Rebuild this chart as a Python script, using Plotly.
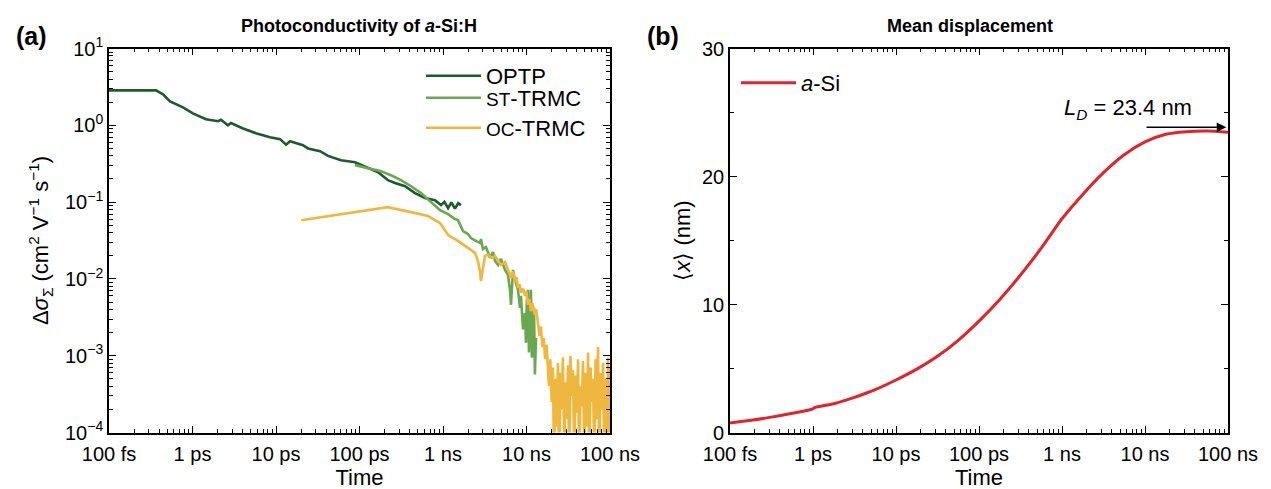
import plotly.graph_objects as go

# ---------------- data: panel (a) ----------------
x_tick_vals = [1e-13, 1e-12, 1e-11, 1e-10, 1e-9, 1e-8, 1e-7]
x_tick_text = ["100 fs", "1 ps", "10 ps", "100 ps", "1 ns", "10 ns", "100 ns"]
ya_tick_vals = [1e-4, 1e-3, 1e-2, 1e-1, 1e0, 1e1]
ya_tick_text = ["10<sup>−4</sup>", "10<sup>−3</sup>", "10<sup>−2</sup>",
                "10<sup>−1</sup>", "10<sup>0</sup>", "10<sup>1</sup>"]

optp_t = [1.0e-13, 2.0e-13, 3.66e-13, 4.44e-13, 5.38e-13, 7.69e-13, 1.01e-12, 1.45e-12,
          2.02e-12, 2.19e-12, 2.66e-12, 2.89e-12, 4.03e-12, 5.75e-12, 8.47e-12, 1.12e-11,
          1.32e-11, 1.47e-11, 2.10e-11, 2.42e-11, 3.37e-11, 4.20e-11, 6.0e-11, 8.83e-11,
          1.26e-10, 1.67e-10, 2.19e-10, 2.66e-10, 3.51e-10, 4.62e-10, 6.08e-10, 8.0e-10,
          9.46e-10, 1.04e-9, 1.15e-9, 1.26e-9, 1.39e-9, 1.52e-9, 1.64e-9]
optp_v = [2.85, 2.85, 2.85, 2.53, 2.05, 1.71, 1.43, 1.20, 1.13, 1.18, 1.0, 1.07,
          0.91, 0.79, 0.70, 0.66, 0.56, 0.62, 0.55, 0.50, 0.46, 0.40, 0.35, 0.33,
          0.277, 0.245, 0.193, 0.177, 0.161, 0.131, 0.113, 0.106, 0.0914, 0.101,
          0.0835, 0.099, 0.082, 0.097, 0.0914]

st_t = [8.8e-11, 1.26e-10, 1.81e-10, 2.38e-10, 3.14e-10, 4.14e-10, 5.46e-10, 7.18e-10,
        9.2e-10, 1.15e-9, 1.39e-9, 1.51e-9, 1.74e-9, 1.99e-9, 2.16e-9, 2.48e-9, 2.77e-9,
        2.85e-9, 3.01e-9, 3.27e-9, 3.66e-9, 3.97e-9, 4.2e-9, 4.56e-9, 4.95e-9, 5.53e-9,
        6.0e-9, 6.34e-9, 6.52e-9, 6.89e-9, 7.28e-9, 7.91e-9, 8.36e-9, 8.59e-9, 9.08e-9,
        9.6e-9, 9.86e-9, 1.01e-8, 1.04e-8, 1.07e-8, 1.10e-8, 1.13e-8, 1.16e-8, 1.20e-8,
        1.23e-8, 1.26e-8, 1.30e-8]
st_v = [0.303, 0.277, 0.253, 0.224, 0.193, 0.161, 0.131, 0.100, 0.0787, 0.0698,
        0.0601, 0.0583, 0.0420, 0.0384, 0.0340, 0.0312, 0.0294, 0.033, 0.0245, 0.026,
        0.0188, 0.0224, 0.0171, 0.0152, 0.0182, 0.0131, 0.0113, 0.0072, 0.0046, 0.0131,
        0.0097, 0.0072, 0.0042, 0.0060, 0.0022, 0.0036, 0.00148, 0.0053, 0.0072, 0.0011,
        0.00245, 0.0072, 0.00094, 0.0017, 0.0042, 0.00057, 0.0017]

oc_t = [2.0e-11, 2.19e-10, 4.14e-10, 6.6e-10, 9.2e-10, 1.15e-9, 1.51e-9, 1.99e-9,
        2.42e-9, 2.62e-9, 2.77e-9, 2.85e-9, 3.01e-9, 3.18e-9, 3.46e-9, 3.86e-9, 4.2e-9,
        4.56e-9, 4.95e-9, 5.53e-9, 6.0e-9,
        6.52e-9, 6.9e-9, 7.28e-9, 7.6e-9, 7.91e-9, 8.25e-9, 8.59e-9, 9.1e-9, 9.6e-9,
        1.0e-8, 1.04e-8, 1.08e-8, 1.13e-8, 1.18e-8, 1.26e-8, 1.31e-8, 1.37e-8, 1.43e-8,
        1.49e-8, 1.55e-8, 1.61e-8, 1.67e-8, 1.74e-8, 1.81e-8,
        1.86e-8, 1.93e-8, 2.00e-8, 2.07e-8, 2.14e-8, 2.22e-8, 2.30e-8, 2.38e-8, 2.46e-8,
        2.55e-8, 2.64e-8, 2.73e-8, 2.83e-8, 2.93e-8, 3.03e-8, 3.14e-8, 3.25e-8, 3.36e-8,
        3.48e-8, 3.60e-8, 3.73e-8, 3.86e-8, 4.00e-8, 4.14e-8, 4.28e-8, 4.43e-8, 4.59e-8,
        4.75e-8, 4.92e-8, 5.09e-8, 5.27e-8, 5.46e-8, 5.65e-8, 5.85e-8, 6.05e-8, 6.26e-8,
        6.48e-8, 6.71e-8, 6.95e-8, 7.19e-8, 7.44e-8, 7.70e-8, 7.97e-8, 8.25e-8, 8.54e-8,
        8.84e-8, 9.15e-8, 9.47e-8, 9.80e-8, 1.0e-7]
oc_v = [0.058, 0.086, 0.074, 0.0658, 0.0533, 0.0373, 0.0312, 0.0253, 0.0218, 0.0171,
        0.0127, 0.0094, 0.0131, 0.0199, 0.0205, 0.0188, 0.0199, 0.0171, 0.0152, 0.0166,
        0.0131,
        0.0103, 0.0125, 0.0091, 0.0105, 0.0076, 0.0085, 0.0066, 0.0075, 0.0060,
        0.0068, 0.0046, 0.0055, 0.0038, 0.0048, 0.0034, 0.0040, 0.0027, 0.0018,
        0.0024, 0.0013, 0.0017, 0.0009, 0.0014, 0.0006,
        4.0e-4, 9.0e-4, 2.5e-4, 7.0e-4, 0.4e-4, 5.0e-4, 1.2e-4, 8.0e-4, 0.3e-4,
        6.0e-4, 2.0e-4, 9.5e-4, 0.5e-4, 4.5e-4, 1.5e-4, 7.5e-4, 0.3e-4, 10.0e-4,
        3.0e-4, 6.5e-4, 0.4e-4, 5.5e-4, 1.8e-4, 9.0e-4, 0.3e-4, 4.0e-4, 2.2e-4,
        8.5e-4, 0.5e-4, 6.0e-4, 1.2e-4, 11.0e-4, 0.3e-4, 7.0e-4, 2.5e-4, 5.0e-4,
        0.4e-4, 9.0e-4, 1.5e-4, 13.0e-4, 0.3e-4, 6.0e-4, 2.0e-4, 8.0e-4, 0.4e-4,
        5.0e-4, 1.0e-4, 9.5e-4, 0.3e-4, 7.0e-4]

# ---------------- data: panel (b) ----------------
yb_tick_vals = [0, 10, 20, 30]
asi_t = [1.0e-13, 1.78e-13, 3.16e-13, 5.62e-13, 1.0e-12, 1.05e-12, 1.78e-12, 3.16e-12,
         5.62e-12, 1.0e-11, 1.78e-11, 3.16e-11, 5.62e-11, 1.0e-10, 1.78e-10, 3.16e-10,
         5.62e-10, 7.94e-10, 1.0e-9, 1.78e-9, 3.16e-9, 5.62e-9, 1.0e-8, 1.78e-8,
         3.16e-8, 5.62e-8, 1.0e-7]
asi_x = [0.75, 0.95, 1.2, 1.5, 1.85, 1.95, 2.25, 2.75, 3.35, 4.1, 4.95, 5.95, 7.2, 8.7,
         10.4, 12.3, 14.4, 15.8, 16.7, 18.6, 20.3, 21.7, 22.7, 23.3, 23.5, 23.55, 23.45]
LD_value = 23.4

# ---------------- style ----------------
FONT = "Liberation Sans, Arial, sans-serif"
C_OPTP = "#1c5b2c"
C_ST = "#6aa84f"
C_OC = "#f0b73f"
C_RED = "#e3232b"
W, H = 1271, 489
TICK_SIZE = 20
LAB_SIZE = 22
LEG_SIZE = 22


def px_x(p):
    return p / W


def px_y(p):
    return 1 - p / H


minor_log = [m * 10.0 ** e for e in range(-14, 2) for m in range(2, 10)]

fig = go.Figure()
fig.add_trace(go.Scatter(x=optp_t, y=optp_v, mode="lines", name="OPTP",
                         line=dict(color=C_OPTP, width=2.6), xaxis="x", yaxis="y",
                         legend="legend"))
fig.add_trace(go.Scatter(x=st_t, y=st_v, mode="lines",
                         name="<span style='font-size:19px'>ST</span>-TRMC",
                         line=dict(color=C_ST, width=2.6), xaxis="x", yaxis="y",
                         legend="legend3"))
fig.add_trace(go.Scatter(x=oc_t, y=oc_v, mode="lines",
                         name="<span style='font-size:19px'>OC</span>-TRMC",
                         line=dict(color=C_OC, width=2.6), xaxis="x", yaxis="y",
                         legend="legend4"))
fig.add_trace(go.Scatter(x=asi_t, y=asi_x, mode="lines", name="<i>a</i>-Si",
                         line=dict(color=C_RED, width=3, shape="spline", smoothing=0.8),
                         xaxis="x2", yaxis="y2", legend="legend2"))

axis_common = dict(showline=True, linecolor="black", linewidth=1.6, mirror="ticks",
                   ticks="inside", ticklen=7, tickwidth=1.2, tickcolor="black",
                   showgrid=False, zeroline=False, automargin=False,
                   tickfont=dict(family=FONT, size=TICK_SIZE, color="black"))
minor_log_axis = dict(tickmode="array", tickvals=minor_log, ticks="inside", ticklen=4,
                      tickcolor="black", tickwidth=1)


def leg(xp, yp):
    return dict(x=px_x(xp), y=px_y(yp), xanchor="left", yanchor="top",
                bgcolor="rgba(0,0,0,0)", itemwidth=55,
                font=dict(family=FONT, size=LEG_SIZE, color="black"))


ydom = [px_y(424.5), px_y(40.5)]
fig.update_layout(
    width=W, height=H,
    margin=dict(l=0, r=0, t=0, b=0),
    plot_bgcolor="white", paper_bgcolor="white",
    font=dict(family=FONT, size=LAB_SIZE, color="black"),
    xaxis=dict(axis_common, type="log", domain=[px_x(101), px_x(602)], range=[-13, -7],
               tickmode="array", tickvals=x_tick_vals, ticktext=x_tick_text,
               minor=minor_log_axis, ticklabelstandoff=3,
               title=dict(text="Time", standoff=4, font=dict(family=FONT, size=LAB_SIZE)),
               anchor="y"),
    yaxis=dict(axis_common, type="log", domain=ydom, range=[-4, 1],
               tickmode="array", tickvals=ya_tick_vals, ticktext=ya_tick_text,
               minor=minor_log_axis,
               title=dict(text="Δ<i>σ</i><sub>Σ</sub> (cm<sup>2</sup> V<sup>−1</sup> s<sup>−1</sup>)",
                          standoff=10, font=dict(family=FONT, size=LAB_SIZE)),
               anchor="x"),
    xaxis2=dict(axis_common, type="log", domain=[px_x(722), px_x(1220)], range=[-13, -7],
                tickmode="array", tickvals=x_tick_vals, ticktext=x_tick_text,
                minor=minor_log_axis, ticklabelstandoff=3,
                title=dict(text="Time", standoff=4, font=dict(family=FONT, size=LAB_SIZE)),
                anchor="y2"),
    yaxis2=dict(axis_common, domain=ydom, range=[0, 30],
                tickmode="array", tickvals=yb_tick_vals,
                minor=dict(dtick=5, tick0=0, ticks="inside", ticklen=4,
                           tickcolor="black", tickwidth=1),
                title=dict(text="⟨<i>x</i>⟩ (nm)", standoff=5,
                           font=dict(family=FONT, size=LAB_SIZE)),
                anchor="x2"),
    legend=leg(413, 47),
    legend3=leg(413, 69),
    legend4=leg(413, 99),
    legend2=leg(728, 54),
    showlegend=True,
)

annotations = [
    dict(text="<b>(a)</b>", x=px_x(6), y=px_y(28), xref="paper", yref="paper",
         xanchor="left", yanchor="middle", showarrow=False,
         font=dict(family=FONT, size=25, color="black")),
    dict(text="<b>(b)</b>", x=px_x(637), y=px_y(28), xref="paper", yref="paper",
         xanchor="left", yanchor="middle", showarrow=False,
         font=dict(family=FONT, size=25, color="black")),
    dict(text="<b>Photoconductivity of <i>a</i>-Si:H</b>", x=px_x(351), y=px_y(18),
         xref="paper", yref="paper", xanchor="center", yanchor="middle", showarrow=False,
         font=dict(family=FONT, size=18, color="black")),
    dict(text="<b>Mean displacement</b>", x=px_x(962), y=px_y(18),
         xref="paper", yref="paper", xanchor="center", yanchor="middle", showarrow=False,
         font=dict(family=FONT, size=18, color="black")),
    dict(text="<i>L<sub>D</sub></i> = %.1f nm" % LD_value, x=-8.2, y=25.25, xref="x2",
         yref="y2", xanchor="center", yanchor="middle", showarrow=False,
         font=dict(family=FONT, size=22, color="black")),
    dict(text="", x=-7.02, y=23.85, ax=-8.0, ay=23.85, xref="x2", yref="y2",
         axref="x2", ayref="y2", showarrow=True, arrowhead=2, arrowsize=1.2,
         arrowwidth=1.6, arrowcolor="black"),
]
fig.update_layout(annotations=annotations)

fig.write_html("out.html")
